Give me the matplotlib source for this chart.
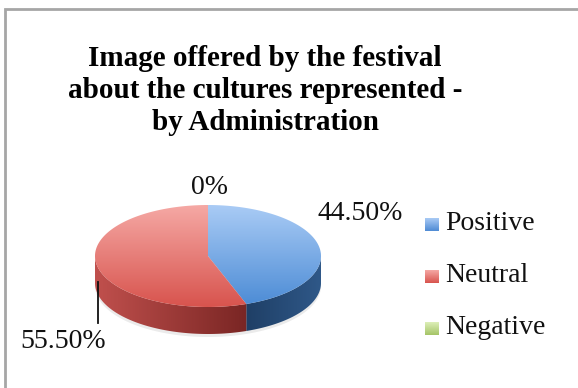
import matplotlib
matplotlib.use("Agg")
import matplotlib.pyplot as plt
import numpy as np
from matplotlib.colors import to_rgb
from matplotlib.patches import Polygon

categories = ["Positive", "Neutral", "Negative"]
shares = [44.5, 55.5, 0.0]

top_colors = [("#a9cbf5", "#4e8dd6"), ("#f5a8a4", "#d8544e"), ("#d9ecb0", "#9bbb59")]
side_colors = [("#1f3f66", "#2f5888"), ("#c0504d", "#7a2624"), ("#9bbb59", "#6e8a35")]
key_colors = [("#a9cbf5", "#4f8bd4"), ("#f5a8a4", "#d8544e"), ("#ddefb8", "#a5c467")]

W, H = 578, 388
CX, CY = 208, 256      # centre of the top face
RX, RY = 113, 51       # ellipse radii
DEPTH = 27             # thickness of the disc

fig = plt.figure(figsize=(W / 100, H / 100), dpi=100)
ax = fig.add_axes([0, 0, 1, 1])
ax.set_xlim(0, W)
ax.set_ylim(H, 0)
ax.axis("off")


def ellipse_pts(t0, t1, n=120, dy=0.0):
    t = np.radians(np.linspace(t0, t1, n))
    return np.column_stack([CX + RX * np.cos(t), CY - RY * np.sin(t) + dy])


def gradient_fill(pts, c0, c1, vertical=True, z=2):
    patch = Polygon(pts, closed=True, facecolor="none", edgecolor="none", zorder=z)
    ax.add_patch(patch)
    x0, y0 = pts.min(axis=0)
    x1, y1 = pts.max(axis=0)
    ramp = np.linspace(0, 1, 64)[:, None]
    cols = (1 - ramp) * np.array(to_rgb(c0)) + ramp * np.array(to_rgb(c1))
    img = cols[:, None, :] if vertical else cols[None, :, :]
    im = ax.imshow(img, extent=(x0, x1, y1, y0), origin="upper",
                   aspect="auto", interpolation="bilinear", zorder=z)
    im.set_clip_path(patch)


# slices run clockwise from 12 o'clock
total = sum(shares)
bounds = []
start = 90.0
for s in shares:
    end = start - 360.0 * s / total
    bounds.append((end, start))
    start = end

# soft shadow under the disc
shadow = Polygon(np.vstack([ellipse_pts(0, -180, dy=DEPTH + 3),
                            ellipse_pts(180, 0, dy=3)]),
                 closed=True, facecolor="#000000", alpha=0.08, edgecolor="none", zorder=1)
ax.add_patch(shadow)

# visible front wall (angles between -180 and 0)
for (lo, hi), (c0, c1) in zip(bounds, side_colors):
    segs = [(max(lo, -180.0), min(hi, 0.0))]
    if lo < -180:
        segs.append((max(lo + 360, -180.0), min(hi + 360, 0.0)))
    for a, b in segs:
        if b - a <= 0:
            continue
        upper = ellipse_pts(a, b)
        lower = ellipse_pts(b, a, dy=DEPTH)
        gradient_fill(np.vstack([upper, lower]), c0, c1, vertical=False, z=2)

# top face wedges
for (lo, hi), (c0, c1) in zip(bounds, top_colors):
    if hi - lo <= 0:
        continue
    pts = np.vstack([[CX, CY], ellipse_pts(lo, hi)])
    gradient_fill(pts, c0, c1, vertical=True, z=3)

# data labels
label_font = dict(family="Liberation Serif", fontsize=20, color="#111111")
label_pos = [(360, 214), (63, 341), (209, 187)]
for s, (lx, ly) in zip(shares, label_pos):
    txt = f"{s:.2f}%" if s else "0%"
    ax.text(lx, ly, txt, ha="center", va="center", zorder=5, **label_font)
ax.plot([98, 98], [282, 323], color="#111111", lw=1.3, zorder=4)

# legend
for i, (name, (c0, c1)) in enumerate(zip(categories, key_colors)):
    y = 224 + i * 52
    key = np.array([[425, y - 6], [439, y - 6], [439, y + 7], [425, y + 7]], float)
    gradient_fill(key, c0, c1, vertical=True, z=3)
    ax.text(445, y, name, ha="left", va="center", zorder=5, **label_font)

# title
for j, line in enumerate(["Image offered by the festival",
                          "about the cultures represented -",
                          "by Administration"]):
    ax.text(265, 58 + j * 32, line, ha="center", va="center", fontsize=21,
            fontweight="bold", family="Liberation Serif", color="#000000")

# chart frame (top and left edges only)
ax.plot([5, 5, W], [H, 9, 9], color="#a6a6a6", lw=2, solid_joinstyle="miter", zorder=6)

fig.savefig("out.png", dpi=100)
